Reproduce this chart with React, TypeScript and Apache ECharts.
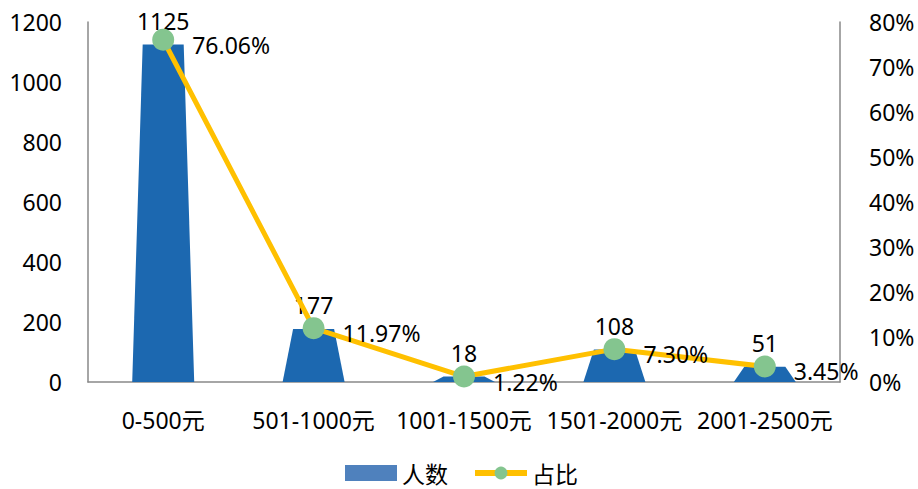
import React, { useEffect, useRef } from "react";
import * as echarts from "echarts";

const categories = ["0-500元", "501-1000元", "1001-1500元", "1501-2000元", "2001-2500元"];
const counts = [1125, 177, 18, 108, 51];
const shares = [76.06, 11.97, 1.22, 7.3, 3.45];
const leftTicks = [0, 200, 400, 600, 800, 1000, 1200];
const rightTicks = [0, 10, 20, 30, 40, 50, 60, 70, 80];

const FONT = '"Noto Sans", "Noto Sans CJK SC", sans-serif';
const FS = 23;

export default function App() {
  const ref = useRef<HTMLDivElement>(null);
  useEffect(() => {
    if (!ref.current) return;
    const chart = echarts.init(ref.current, null, { renderer: "svg" });
    const option: any = {
      animation: false,
      textStyle: { fontFamily: FONT },
      grid: { left: 88, right: 78, top: 22, bottom: 107 },
      legend: {
        top: 461,
        left: 345,
        padding: 0,
        itemWidth: 52,
        itemHeight: 16,
        itemGap: 24,
        textStyle: {
          fontSize: 23,
          lineHeight: 24,
          color: "#000",
          fontFamily: '"Noto Sans CJK SC", sans-serif',
        },
        data: [
          { name: "人数", icon: "rect", itemStyle: { color: "#4F81BD" } },
          { name: "占比", lineStyle: { width: 6, color: "#FFC000" } },
        ],
      },
      xAxis: {
        type: "category",
        data: categories,
        axisLine: { show: true, lineStyle: { color: "#898989", width: 1.5 } },
        axisTick: { show: false },
        axisLabel: { color: "#000", fontSize: FS, margin: 26, interval: 0 },
      },
      yAxis: [
        {
          type: "value",
          min: leftTicks[0],
          max: leftTicks[leftTicks.length - 1],
          interval: 200,
          axisLine: { show: true, lineStyle: { color: "#898989", width: 1.5 } },
          axisTick: { show: false },
          splitLine: { show: false },
          axisLabel: { color: "#000", fontSize: FS, margin: 26, formatter: (v: number) => String(v) },
        },
        {
          type: "value",
          min: rightTicks[0],
          max: rightTicks[rightTicks.length - 1],
          interval: 10,
          axisLine: { show: true, lineStyle: { color: "#898989", width: 1.5 } },
          axisTick: { show: false },
          splitLine: { show: false },
          axisLabel: { color: "#000", fontSize: FS, margin: 29, formatter: "{value}%" },
        },
      ],
      series: [
        {
          name: "人数",
          type: "custom",
          yAxisIndex: 0,
          itemStyle: { color: "#1C68B0" },
          data: counts.map((v, i) => [i, v]),
          encode: { x: 0, y: 1 },
          renderItem: (params: any, api: any) => {
            const idx = api.value(0);
            const val = api.value(1);
            const top = api.coord([idx, val]);
            const base = api.coord([idx, 0]);
            const tw = 20.5;
            const bw = 31;
            return {
              type: "group",
              children: [
                {
                  type: "polygon",
                  shape: {
                    points: [
                      [base[0] - bw, base[1]],
                      [top[0] - tw, top[1]],
                      [top[0] + tw, top[1]],
                      [base[0] + bw, base[1]],
                    ],
                  },
                  style: { fill: "#1C68B0" },
                },
                {
                  type: "text",
                  x: top[0],
                  y: top[1] - 24,
                  style: {
                    text: String(val),
                    fill: "#000",
                    font: `${FS}px ${FONT}`,
                    align: "center",
                    verticalAlign: "middle",
                  },
                  z2: 100,
                },
              ],
            };
          },
        },
        {
          name: "占比",
          type: "line",
          yAxisIndex: 1,
          data: shares,
          z: 5,
          lineStyle: { color: "#FFC000", width: 5 },
          itemStyle: { color: "#84C58F" },
          symbol: "circle",
          symbolSize: 22,
          label: {
            show: true,
            position: "right",
            distance: 18,
            offset: [0, 5],
            color: "#000",
            fontSize: FS,
            formatter: (p: any) => p.value.toFixed(2) + "%",
          },
        },
      ],
    };
    chart.setOption(option);
    return () => chart.dispose();
  }, []);
  return (
    <div
      ref={ref}
      style={{ position: "fixed", left: 0, top: 0, width: 918, height: 489, background: "#fff" }}
    />
  );
}
